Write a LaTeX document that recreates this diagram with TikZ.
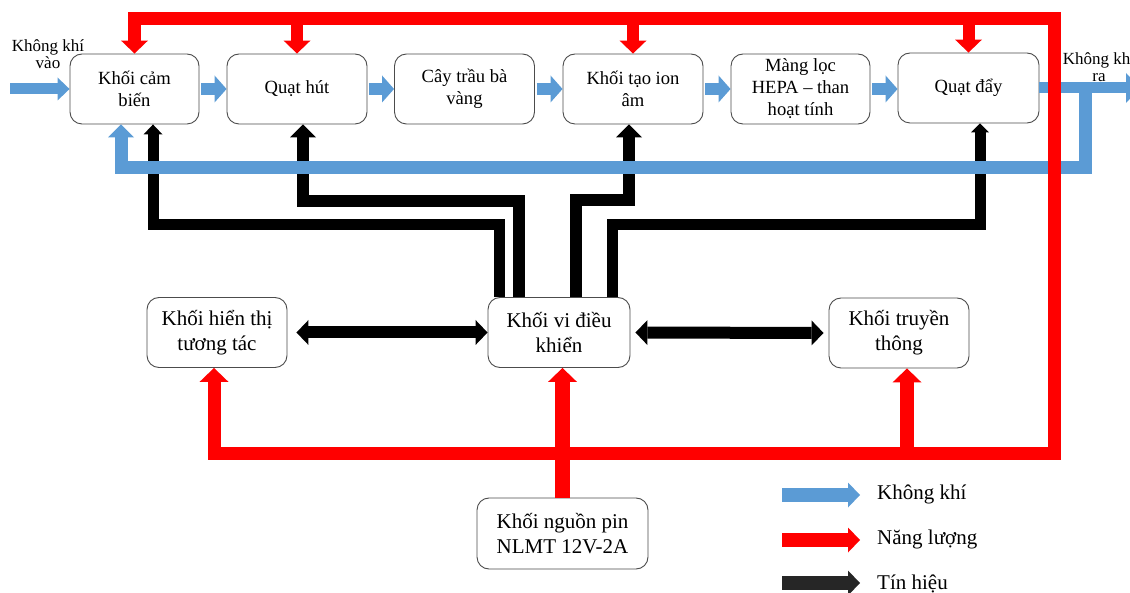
\documentclass[tikz,border=0pt]{standalone}
\usepackage{fontspec}
\setmainfont{Liberation Serif}
\usetikzlibrary{arrows.meta,calc}
\definecolor{airblue}{RGB}{91,155,213}
\definecolor{powred}{RGB}{255,0,0}
\definecolor{legblack}{RGB}{38,38,38}
\begin{document}
\begin{tikzpicture}[x=1pt,y=-1pt,line join=miter,
  box/.style={draw=black!70, line width=0.9pt, rounded corners=12pt, fill=white, align=center, inner sep=1pt, minimum height=70pt, minimum width=140pt},
  topbox/.style={box, font=\fontsize{18.6}{22}\selectfont},
  midbox/.style={box, font=\fontsize{21}{25}\selectfont},
  small/.style={align=center, inner sep=0pt, font=\fontsize{17}{17.5}\selectfont},
  legtext/.style={anchor=base west, inner sep=0pt, font=\fontsize{21}{25}\selectfont},
  air/.style={draw=airblue, line width=12pt, shorten <=2pt, -{Triangle[width=27pt,length=12pt,line width=0pt]}},
  sig/.style={draw=black, line width=12pt, -{Triangle[width=26pt,length=13pt,line width=0pt]}},
  sigboth/.style={draw=black, line width=12pt, {Triangle[width=25pt,length=12pt,line width=0pt]}-{Triangle[width=25pt,length=12pt,line width=0pt]}},
  powbus/.style={draw=powred, line width=13pt},
  powdrop/.style={draw=powred, line width=12pt, -{Triangle[width=27pt,length=13pt,line width=0pt]}},
  powup/.style={draw=powred, line width=14pt, -{Triangle[width=29pt,length=14pt,line width=0pt]}},
  legarrow/.style={line width=14pt, -{Triangle[width=25pt,length=12pt,line width=0pt]}}
]
\useasboundingbox (0,0) rectangle (1130,593);

% ---- boxes ----
\node[topbox, minimum width=129pt] (b1) at (134.5,89) {Khối cảm\\biến};
\node[topbox] (b2) at (297,89) {Quạt hút};
\node[topbox] (b3) at (464.5,89) {Cây trầu bà\\vàng};
\node[topbox] (b4) at (633,89) {Khối tạo ion\\âm};
\node[topbox, minimum width=139pt] (b5) at (800.5,89) {Màng lọc\\HEPA – than\\hoạt tính};
\node[topbox, minimum width=141pt] (b6) at (968.5,88) {Quạt đẩy};
\node[midbox] (disp) at (217,332.5) {Khối hiển thị\\tương tác};
\node[midbox, minimum width=142pt] (ctrl) at (559,332.5) {Khối vi điều\\khiển};
\node[midbox] (comm) at (899,333) {Khối truyền\\thông};
\node[midbox, minimum width=171pt, minimum height=71pt] (power) at (562.5,533.5) {Khối nguồn pin\\NLMT 12V-2A};

\node[small] (inlbl) at (48,54) {Không khí\\vào};
\node[small] (outlbl) at (1099,67) {Không khí\\ra};

% ---- signal (black) ----
\coordinate (ka) at (153,225);
\coordinate (kb) at (303,201);
\coordinate (kc) at (629,200);
\coordinate (kd) at (980,225);
\draw[sig, line width=11pt, -{Triangle[width=19pt,length=10pt,line width=0pt]}] ($(ctrl.north)+(-59.5,0)$) |- (ka) -- (ka |- b1.south);
\draw[sig] ($(ctrl.north)+(-40,0)$) |- (kb) -- (kb |- b2.south);
\draw[sig] ($(ctrl.north)+(17,0)$) |- (kc) -- (kc |- b4.south);
\draw[sig, line width=11pt, -{Triangle[width=18pt,length=9pt,line width=0pt]}] ($(ctrl.north)+(53,0)$) |- (kd) -- (kd |- b6.south);
\draw[sigboth, shorten <=9pt] (disp.east) -- (ctrl.west);
\draw[sigboth, shorten <=5pt, shorten >=5pt] (ctrl.east) -- (comm.west);

% ---- air (blue) ----
\coordinate (ain) at (10,89);
\coordinate (aout) at (1140,88);
\coordinate (lp) at (1085,88);
\coordinate (ret) at (121,168);
\draw[air, line width=11pt, shorten <=0pt, -{Triangle[width=23pt,length=12pt,line width=0pt]}] (ain) -- (b1.west);
\draw[air] (b1.east) -- (b2.west);
\draw[air] (b2.east) -- (b3.west);
\draw[air] (b3.east) -- (b4.west);
\draw[air] (b4.east) -- (b5.west);
\draw[air] (b5.east) -- (b5.east -| b6.west);
\draw[air, line width=11pt, shorten <=0pt, -{Triangle[width=30pt,length=14pt,line width=0pt]}] (b6.east) -- (aout);
\draw[air, line width=13pt, shorten <=0pt, -{Triangle[width=26pt,length=13pt,line width=0pt]}] (lp) |- (ret) -- (ret |- b1.south);

% ---- power (red) ----
\coordinate (rt) at (1054,18.5);
\coordinate (rb) at (1054,453.5);
\coordinate (ds) at ($(disp.south)+(-3,0)$);
\coordinate (cs) at ($(comm.south)+(8,0)$);
\draw[powbus, {Triangle[width=27pt,length=13pt,line width=0pt]}-{Triangle[width=29pt,length=14pt,line width=0pt]}] (b1.north) |- (rt) -- (rb) -| (ds);
\draw[powdrop] (b2.north |- rt) -- (b2.north);
\draw[powdrop] (b4.north |- rt) -- (b4.north);
\draw[powdrop] (b6.north |- rt) -- (b6.north);
\draw[powup] (cs |- rb) -- (cs);
\draw[powup, line width=15pt] (power.north) -- (power.north |- ctrl.south);

% ---- legend ----
\coordinate (la1) at (782,495); \coordinate (la2) at (860,495);
\coordinate (lb1) at (782,540); \coordinate (lb2) at (860,540);
\coordinate (lc1) at (782,583); \coordinate (lc2) at (860,583);
\draw[legarrow, draw=airblue] (la1) -- (la2);
\draw[legarrow, draw=powred] (lb1) -- (lb2);
\draw[legarrow, draw=legblack] (lc1) -- (lc2);
\node[legtext] (lat) at (877,499) {Không khí};
\node[legtext] (lbt) at (877,544) {Năng lượng};
\node[legtext] (lct) at (877,589) {Tín hiệu};
\end{tikzpicture}
\end{document}
